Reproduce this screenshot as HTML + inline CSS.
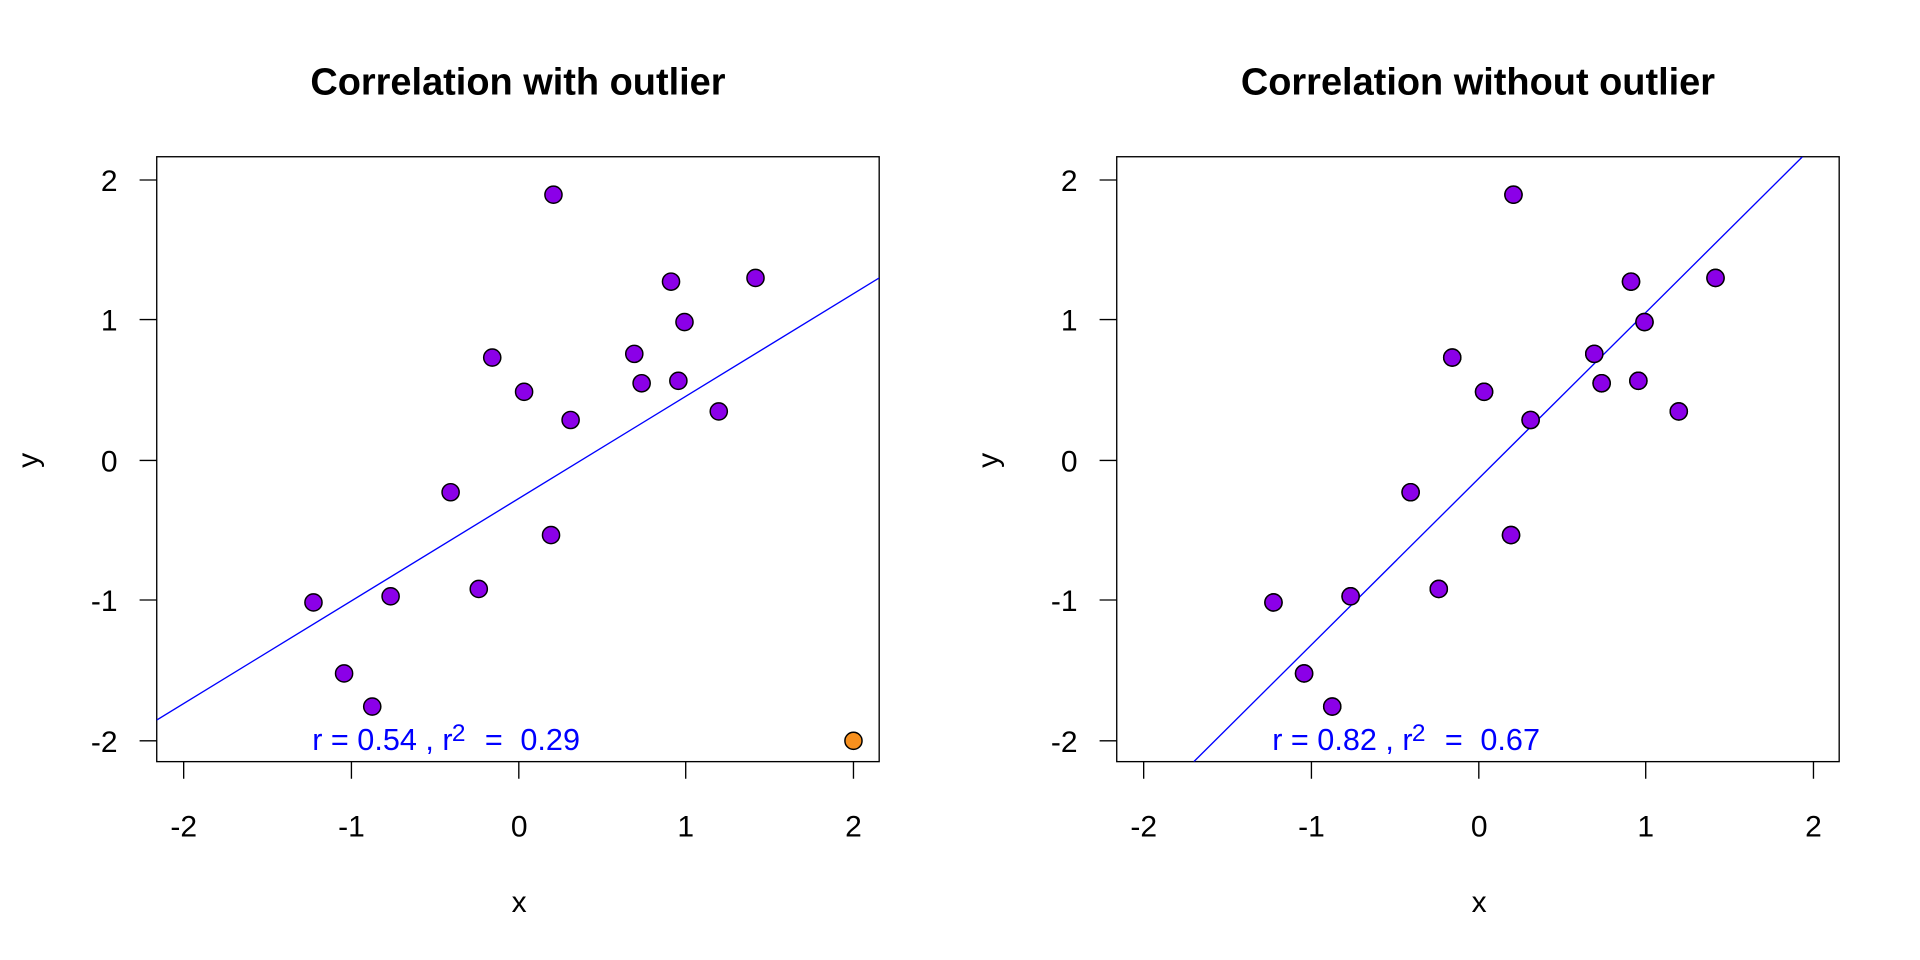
<!DOCTYPE html>
<html><head><meta charset="utf-8"><style>html,body{margin:0;padding:0;background:#fff}svg{display:block}</style></head>
<body>
<svg width="1920" height="960" viewBox="0 0 1568 784" xmlns="http://www.w3.org/2000/svg" font-family="Liberation Sans, Arial, sans-serif">
<defs>
<clipPath id="c1"><rect x="128" y="128" width="590" height="494"/></clipPath>
<clipPath id="c2"><rect x="912" y="128" width="590" height="494"/></clipPath>
<g id="pts" fill="#8B00E8" stroke="#000" stroke-width="1.2">
<circle cx="452" cy="159" r="7"/><circle cx="617" cy="227" r="7"/><circle cx="548" cy="230" r="7"/>
<circle cx="559" cy="263" r="7"/><circle cx="518" cy="289" r="7"/><circle cx="402" cy="292" r="7"/>
<circle cx="428" cy="320" r="7"/><circle cx="524" cy="313" r="7"/><circle cx="554" cy="311" r="7"/>
<circle cx="587" cy="336" r="7"/><circle cx="466" cy="343" r="7"/><circle cx="368" cy="402" r="7"/>
<circle cx="450" cy="437" r="7"/><circle cx="391" cy="481" r="7"/><circle cx="319" cy="487" r="7"/>
<circle cx="256" cy="492" r="7"/><circle cx="281" cy="550" r="7"/><circle cx="304" cy="577" r="7"/>
</g>
<g id="ax" stroke="#000" stroke-width="1.1" fill="none">
<rect x="128" y="128" width="590" height="494"/>
<path d="M150 622v14M287 622v14M423.7 622v14M560 622v14M697 622v14"/>
<path d="M128 147h-14M128 261h-14M128 376h-14M128 490h-14M128 605h-14"/>
</g>
<g id="lab" font-size="24.5" fill="#000">
<g text-anchor="middle">
<text x="150" y="683">-2</text><text x="287" y="683">-1</text><text x="424" y="683">0</text><text x="560" y="683">1</text><text x="697" y="683">2</text>
<text x="424" y="745">x</text>
<text transform="translate(31,376) rotate(-90)">y</text>
</g>
<g text-anchor="end">
<text x="96" y="156">2</text><text x="96" y="270">1</text><text x="96" y="385">0</text><text x="96" y="499">-1</text><text x="96" y="614">-2</text>
</g>
</g>
<g id="rt1" font-size="25" fill="#0000FF">
<text x="255" y="612.5">r = 0.54 , r</text>
<text x="369" y="605" font-size="20">2</text>
<text x="396" y="612.5">=</text>
<text x="425" y="612.5">0.29</text>
</g>
<g id="rt2" font-size="25" fill="#0000FF">
<text x="255" y="612.5">r = 0.82 , r</text>
<text x="369" y="605" font-size="20">2</text>
<text x="396" y="612.5">=</text>
<text x="425" y="612.5">0.67</text>
</g>
</defs>

<use href="#ax"/><use href="#lab"/>
<text x="423" y="77" font-size="31" font-weight="bold" text-anchor="middle">Correlation with outlier</text>
<line x1="128" y1="588" x2="718" y2="227" stroke="#0000FF" stroke-width="1.1" clip-path="url(#c1)"/>
<use href="#pts"/>
<circle cx="697" cy="605" r="7" fill="#F7901E" stroke="#000" stroke-width="1.2"/>
<use href="#rt1"/>

<g transform="translate(784,0)"><use href="#ax"/><use href="#lab"/><use href="#pts"/><use href="#rt2"/></g>
<text x="1207" y="77" font-size="31" font-weight="bold" text-anchor="middle">Correlation without outlier</text>
<line x1="975" y1="622" x2="1472" y2="128" stroke="#0000FF" stroke-width="1.1" clip-path="url(#c2)"/>
<g transform="translate(784,0)"><use href="#pts"/></g>
</svg>
</body></html>
